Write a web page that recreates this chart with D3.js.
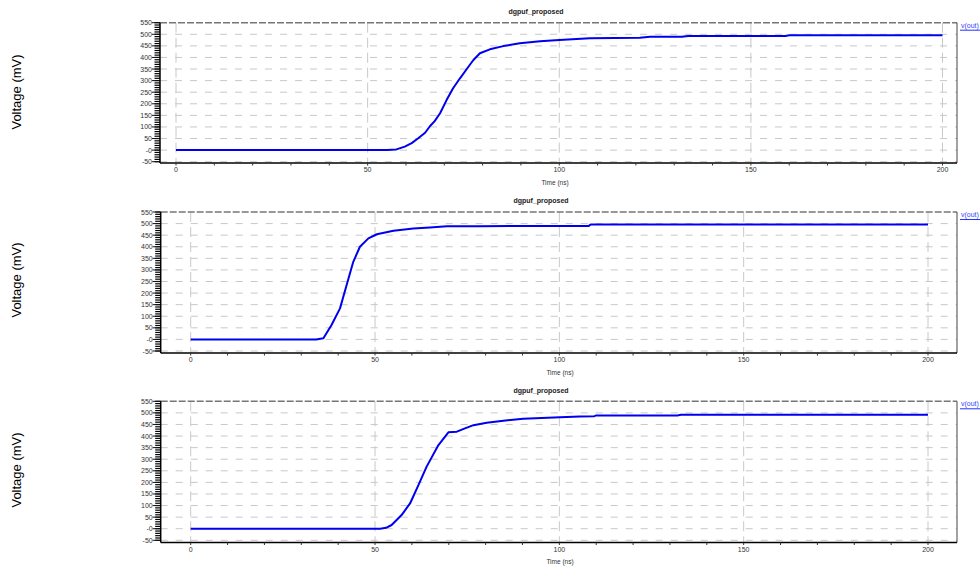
<!DOCTYPE html>
<html><head><meta charset="utf-8">
<script src="https://cdn.jsdelivr.net/npm/d3@7"></script>
<style>
body{margin:0;background:#fff;}
svg{display:block;font-family:"Liberation Sans",Arial,sans-serif;}
</style></head>
<body>
<svg id="chart" width="980" height="572"></svg>
<script>
// ---- data ----
const chartTitle = "dgpuf_proposed";
const xLabel = "Time (ns)";
const yLabel = "Voltage (mV)";
const legendLabel = "v(out)";
const xTicks = [0, 50, 100, 150, 200];
const yTicks = [550, 500, 450, 400, 350, 300, 250, 200, 150, 100, 50, 0, -50];

const t1 = [0, 55, 57.5, 59.7, 61.5, 63.2, 65, 66.3, 67.5, 68.9, 70.6, 72.3, 74.1, 76.3, 77.6, 79.3, 81.9, 85.4, 89.7, 95, 100, 108, 121, 123.7, 132, 133.6, 159, 160, 200];
const v1 = [0, 0, 3, 15, 30, 51, 75, 104, 125, 159, 216, 267, 310, 360, 389, 418, 435, 449, 461, 470, 475, 483, 485, 489, 489, 493, 493, 496, 496];

const t2 = [0, 34, 36, 38.2, 40.5, 42.3, 44.1, 45.9, 48.2, 50.5, 55, 60.4, 64.9, 69.5, 78.5, 108, 108.5, 200];
const v2 = [0, 0, 5, 62, 134, 235, 335, 400, 436, 454, 469, 479, 483, 488, 489, 490, 496, 496];

const t3 = [0, 51.4, 53, 54.5, 57.2, 59.5, 61.8, 64, 67.2, 69.9, 72.2, 74.4, 76.7, 80.3, 84.8, 90.2, 100.2, 105.6, 109.5, 110, 132, 133, 200];
const v3 = [0, 0, 4, 16, 59, 109, 189, 268, 361, 416, 419, 433, 447, 457, 466, 475, 481, 484, 486, 489, 489, 492, 492];

const panels = [
  {t: t1, v: v1, left: 160, right: 957, x0: 176, x200: 942.5, yTop: 22.7, yBot: 161.7, axisY: 163, titleY: 14, xlabY: 185, ylabY: 92, titleX: 536, xlabX: 555},
  {t: t2, v: v2, left: 160.7, right: 957, x0: 190.7, x200: 928, yTop: 212, yBot: 351, axisY: 353, titleY: 203, xlabY: 375, ylabY: 280, titleX: 541, xlabX: 560},
  {t: t3, v: v3, left: 160.7, right: 957, x0: 190.7, x200: 928, yTop: 401.3, yBot: 540.3, axisY: 542.5, titleY: 393, xlabY: 564, ylabY: 470, titleX: 541, xlabX: 560}
];

const svg = d3.select("#chart");

panels.forEach(p => {
  const x = d3.scaleLinear().domain([0, 200]).range([p.x0, p.x200]);
  const y = d3.scaleLinear().domain([-50, 550]).range([p.yBot, p.yTop]);
  const g = svg.append("g");

  // horizontal grid
  g.selectAll(".hg").data(yTicks.filter(d => d < 550)).enter().append("line")
    .attr("x1", p.left).attr("x2", p.right)
    .attr("y1", d => y(d)).attr("y2", d => y(d))
    .attr("stroke", "#c8c8c8").attr("stroke-width", 1)
    .attr("stroke-dasharray", "7,8");
  // vertical grid
  g.selectAll(".vg").data(xTicks).enter().append("line")
    .attr("x1", d => x(d)).attr("x2", d => x(d))
    .attr("y1", p.yTop).attr("y2", p.axisY)
    .attr("stroke", "#c8c8c8").attr("stroke-width", 1)
    .attr("stroke-dasharray", "10,5");

  // top border dashed
  g.append("line").attr("x1", p.left).attr("x2", p.right)
    .attr("y1", y(550)).attr("y2", y(550))
    .attr("stroke", "#777").attr("stroke-width", 1.5).attr("stroke-dasharray", "7,2");
  // right border
  g.append("line").attr("x1", p.right).attr("x2", p.right)
    .attr("y1", y(550)).attr("y2", p.axisY)
    .attr("stroke", "#444").attr("stroke-width", 1);

  // y axis minor ticks
  const yMinor = d3.range(-50, 551, 10);
  g.selectAll(".ym").data(yMinor).enter().append("line")
    .attr("x1", p.left - 5.5).attr("x2", p.left)
    .attr("y1", d => y(d)).attr("y2", d => y(d))
    .attr("stroke", "#000").attr("stroke-width", 1.2);
  // y axis major ticks & labels
  g.selectAll(".yM").data(yTicks).enter().append("line")
    .attr("x1", p.left - 8).attr("x2", p.left)
    .attr("y1", d => y(d)).attr("y2", d => y(d))
    .attr("stroke", "#111").attr("stroke-width", 1);
  g.selectAll(".yl").data(yTicks).enter().append("text")
    .attr("x", p.left - 8).attr("y", d => y(d) + 2.5)
    .attr("text-anchor", "end").attr("font-size", 7).attr("fill", "#333")
    .text(d => d === 0 ? "-0" : d);
  // y axis line
  g.append("line").attr("x1", p.left).attr("x2", p.left)
    .attr("y1", y(550)).attr("y2", p.axisY)
    .attr("stroke", "#000").attr("stroke-width", 1.5);

  // x axis
  g.append("line").attr("x1", p.left).attr("x2", p.right)
    .attr("y1", p.axisY).attr("y2", p.axisY)
    .attr("stroke", "#000").attr("stroke-width", 1.5);
  const xMinor = d3.range(0, 201, 10);
  g.selectAll(".xm").data(xMinor).enter().append("line")
    .attr("x1", d => x(d)).attr("x2", d => x(d))
    .attr("y1", p.axisY).attr("y2", p.axisY + 2.5)
    .attr("stroke", "#333").attr("stroke-width", 1);
  g.selectAll(".xl").data(xTicks).enter().append("text")
    .attr("x", d => x(d)).attr("y", p.axisY + 9)
    .attr("text-anchor", "middle").attr("font-size", 7).attr("fill", "#333")
    .text(d => d);

  // curve
  const pts = p.t.map((t, i) => [t, p.v[i]]);
  g.append("path").datum(pts)
    .attr("d", d3.line().x(d => x(d[0])).y(d => y(d[1])))
    .attr("fill", "none").attr("stroke", "#0000ee").attr("stroke-width", 2)
    .attr("stroke-linejoin", "round");

  // title
  g.append("text").attr("x", p.titleX).attr("y", p.titleY)
    .attr("text-anchor", "middle").attr("font-size", 7).attr("font-weight", "bold")
    .attr("fill", "#222").text(chartTitle);
  // x label
  g.append("text").attr("x", p.xlabX).attr("y", p.xlabY)
    .attr("text-anchor", "middle").attr("font-size", 6.5).attr("fill", "#333")
    .text(xLabel);
  // y label
  g.append("text").attr("transform", `translate(21,${p.ylabY}) rotate(-90)`)
    .attr("text-anchor", "middle").attr("font-size", 13).attr("fill", "#000")
    .text(yLabel);
  // legend
  g.append("text").attr("x", 961).attr("y", y(550) + 5)
    .attr("font-size", 7).attr("fill", "#3344ff").text(legendLabel);
  g.append("line").attr("x1", 960).attr("x2", 980)
    .attr("y1", y(550) + 7.5).attr("y2", y(550) + 7.5)
    .attr("stroke", "#2233ff").attr("stroke-width", 1);
});
</script>
</body></html>
